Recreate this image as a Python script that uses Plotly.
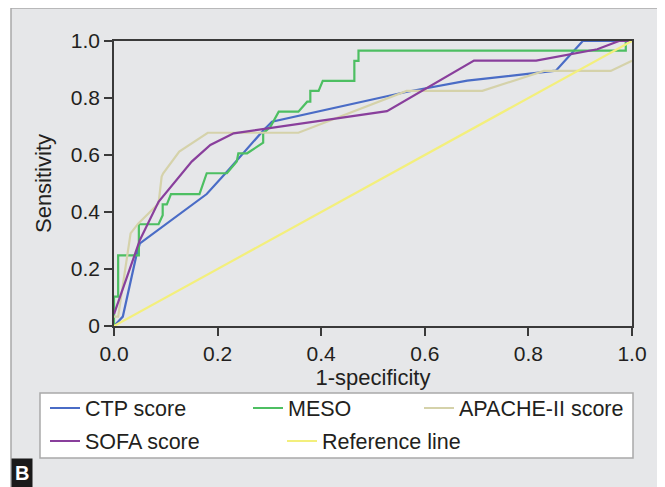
import plotly.graph_objects as go

# ---------------- data ----------------
ctp_x = [0.0, 0.017, 0.043, 0.050, 0.179, 0.221, 0.289, 0.305, 0.566, 0.682, 0.853, 0.905, 1.0]
ctp_y = [0.0, 0.033, 0.246, 0.290, 0.463, 0.547, 0.688, 0.717, 0.822, 0.861, 0.896, 1.0, 1.0]

meso_x = [0.0, 0.0, 0.008, 0.008, 0.048, 0.048, 0.086, 0.094, 0.094, 0.102, 0.110, 0.165, 0.179,
          0.218, 0.237, 0.240, 0.257, 0.288, 0.288, 0.302, 0.318, 0.356, 0.373, 0.379, 0.379,
          0.395, 0.403, 0.464, 0.464, 0.472, 0.472, 0.988, 0.988, 1.0]
meso_y = [0.0, 0.103, 0.103, 0.248, 0.248, 0.357, 0.357, 0.389, 0.427, 0.427, 0.463, 0.463, 0.536,
          0.536, 0.577, 0.606, 0.606, 0.643, 0.676, 0.699, 0.752, 0.752, 0.787, 0.787, 0.825,
          0.825, 0.860, 0.860, 0.930, 0.930, 0.966, 0.966, 1.0, 1.0]

apache_x = [0.0, 0.008, 0.032, 0.047, 0.086, 0.092, 0.095, 0.126, 0.181, 0.356, 0.565, 0.711,
            0.830, 0.959, 1.0]
apache_y = [0.033, 0.033, 0.325, 0.360, 0.430, 0.524, 0.536, 0.612, 0.678, 0.678, 0.825, 0.825,
            0.895, 0.895, 0.931]

sofa_x = [0.0, 0.050, 0.086, 0.121, 0.150, 0.186, 0.231, 0.527, 0.695, 0.815, 0.933, 0.975, 1.0]
sofa_y = [0.042, 0.302, 0.436, 0.512, 0.577, 0.635, 0.676, 0.754, 0.931, 0.931, 0.971, 1.0, 1.0]

ref_x = [0.0, 1.0]
ref_y = [0.0, 1.0]

x_tickvals = [0.0, 0.2, 0.4, 0.6, 0.8, 1.0]
x_ticktext = ["0.0", "0.2", "0.4", "0.6", "0.8", "1.0"]
y_tickvals = [0.0, 0.2, 0.4, 0.6, 0.8, 1.0]
y_ticktext = ["0", "0.2", "0.4", "0.6", "0.8", "1.0"]

# ---------------- layout helpers ----------------
# The page body adds an 8 px margin, so the figure is drawn 8 px smaller and
# all screen positions are shifted by that offset.
OFF = 8
W, H = 665 - OFF, 487 - OFF
PLOT_X0, PLOT_X1, PLOT_Y0, PLOT_Y1 = 114, 632, 41, 326   # screen pixels
L, R = PLOT_X0 - OFF, W - (PLOT_X1 - OFF)
T, B = PLOT_Y0 - OFF, H - (PLOT_Y1 - OFF)
PW, PH = W - L - R, H - T - B


def px(x):
    return (x - OFF - L) / PW


def py(y):
    return (H - B - (y - OFF)) / PH


FONT = "Liberation Sans, Arial, sans-serif"
TXT = "#231f20"

series = [
    ("CTP score", ctp_x, ctp_y, "#4a6cc6", "legend", 52, 408),
    ("MESO", meso_x, meso_y, "#4dbf62", "legend2", 255, 408),
    ("APACHE-II score", apache_x, apache_y, "#d5d2aa", "legend3", 426, 408),
    ("SOFA score", sofa_x, sofa_y, "#893f9c", "legend4", 52, 441),
    ("Reference line", ref_x, ref_y, "#f3ef7c", "legend5", 289, 441),
]

fig = go.Figure()
legends = {}
for name, xs, ys, color, leg, lx, ly in series:
    fig.add_trace(go.Scatter(x=xs, y=ys, mode="lines", name=name, legend=leg,
                             line=dict(color=color, width=2.2)))
    legends[leg] = dict(x=px(lx - 7), y=py(ly), xanchor="left", yanchor="middle",
                        bgcolor="rgba(0,0,0,0)", borderwidth=0,
                        font=dict(family=FONT, size=21.5, color=TXT))

axis_common = dict(range=[0, 1], showgrid=False, zeroline=False, showline=True,
                   linecolor="#3a3a3a", linewidth=1.5, mirror=True,
                   ticks="outside", ticklen=8, tickwidth=1.5, tickcolor="#3a3a3a",
                   tickfont=dict(family=FONT, size=21, color=TXT))

fig.update_layout(
    width=W, height=H,
    margin=dict(l=L, r=R, t=T, b=B, autoexpand=False),
    paper_bgcolor="white", plot_bgcolor="white",
    showlegend=True,
    xaxis=dict(**axis_common, tickvals=x_tickvals, ticktext=x_ticktext,
               title=dict(text="1-specificity", font=dict(family=FONT, size=22, color=TXT),
                          standoff=6)),
    yaxis=dict(**axis_common, tickvals=y_tickvals, ticktext=y_ticktext,
               title=dict(text="Sensitivity", font=dict(family=FONT, size=22, color=TXT),
                          standoff=13)),
    shapes=[
        dict(type="rect", xref="paper", yref="paper", layer="below",
             x0=px(11), x1=px(660), y0=py(500), y1=py(8),
             fillcolor="#e6e7e9", line=dict(color="#a9a9a9", width=1.5)),
        dict(type="rect", xref="paper", yref="paper", layer="below",
             x0=px(661), x1=px(680), y0=py(500), y1=py(8),
             fillcolor="#e6e7e9", line=dict(width=0)),
        dict(type="rect", xref="paper", yref="paper", layer="below",
             x0=px(40), x1=px(633), y0=py(458), y1=py(393),
             fillcolor="white", line=dict(color="#a9a9a9", width=1.5)),
    ],
    annotations=[
        dict(text="<b>B</b>", xref="paper", yref="paper", x=px(11), y=py(488),
             xanchor="left", yanchor="bottom", showarrow=False,
             bgcolor="#1a1a1a", font=dict(family=FONT, size=20, color="white"),
             borderpad=3),
    ],
    **legends,
)

fig.write_html("out.html")
